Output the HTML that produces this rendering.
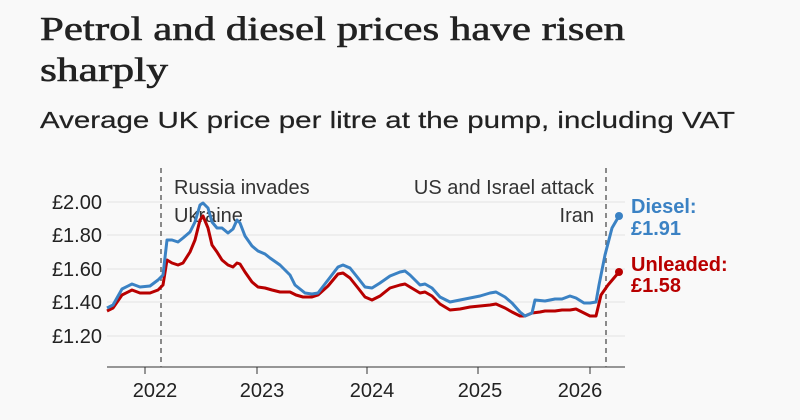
<!DOCTYPE html>
<html><head><meta charset="utf-8"><style>
html,body{margin:0;padding:0;background:#f9f9f9;}
svg{display:block;}
.s{font-family:"Liberation Sans",sans-serif;}
.r{font-family:"Liberation Serif",serif;}
</style></head><body>
<svg width="800" height="420" viewBox="0 0 800 420" xmlns="http://www.w3.org/2000/svg">
<rect width="800" height="420" fill="#f9f9f9"/>
<text class="r" x="40" y="40" font-size="34" fill="#222" stroke="#222" stroke-width="0.6" textLength="585" lengthAdjust="spacingAndGlyphs">Petrol and diesel prices have risen</text>
<text class="r" x="40" y="81" font-size="34" fill="#222" stroke="#222" stroke-width="0.6" textLength="128" lengthAdjust="spacingAndGlyphs">sharply</text>
<text class="s" x="40" y="128" font-size="23" fill="#222" stroke="#222" stroke-width="0.2" textLength="695" lengthAdjust="spacingAndGlyphs">Average UK price per litre at the pump, including VAT</text>
<g stroke="#e2e2e2" stroke-width="1">
<line x1="107" y1="202" x2="625" y2="202"/>
<line x1="107" y1="235" x2="625" y2="235"/>
<line x1="107" y1="269" x2="625" y2="269"/>
<line x1="107" y1="302" x2="625" y2="302"/>
<line x1="107" y1="336" x2="625" y2="336"/>
</g>
<g class="s" font-size="20" fill="#222" text-anchor="end">
<text x="102" y="209">£2.00</text>
<text x="102" y="242">£1.80</text>
<text x="102" y="276">£1.60</text>
<text x="102" y="309">£1.40</text>
<text x="102" y="343">£1.20</text>
</g>
<line x1="107" y1="367" x2="625" y2="367" stroke="#333" stroke-width="1"/>
<g stroke="#333" stroke-width="1">
<line x1="145" y1="367" x2="145" y2="374"/>
<line x1="257" y1="367" x2="257" y2="374"/>
<line x1="367" y1="367" x2="367" y2="374"/>
<line x1="478" y1="367" x2="478" y2="374"/>
<line x1="590" y1="367" x2="590" y2="374"/>
</g>
<g class="s" font-size="20" fill="#222" text-anchor="middle">
<text x="155" y="397">2022</text>
<text x="262" y="397">2023</text>
<text x="372" y="397">2024</text>
<text x="480" y="397">2025</text>
<text x="580" y="397">2026</text>
</g>
<g stroke="#666" stroke-width="1.5" stroke-dasharray="5,4">
<line x1="161" y1="168" x2="161" y2="367"/>
<line x1="606" y1="168" x2="606" y2="367"/>
</g>
<g class="s" font-size="20" fill="#333">
<text x="174" y="194">Russia invades</text>
<text x="174" y="222">Ukraine</text>
<text x="594" y="194" text-anchor="end">US and Israel attack</text>
<text x="594" y="222" text-anchor="end">Iran</text>
</g>
<polyline fill="none" stroke="#b80000" stroke-width="3" stroke-linejoin="round" points="107,311 113,308 122,295 132,290 140,293 150,293 158,290 163,285 167,260 172,263 178,265 183,263 190,252 195,240 200,220 203,216 208,228 212,245 217,252 222,260 228,265 233,267 237,263 240,264 245,272 252,282 258,287 265,288 272,290 280,292 290,292 296,295 303,297 312,297 318,295 328,286 338,274 343,273 350,278 358,288 365,297 372,300 380,296 390,288 400,285 405,284 410,287 420,293 425,292 432,296 440,304 450,310 460,309 470,307 480,306 490,305 496,304 505,308 512,312 520,316 525,316 532,313 540,312 545,311 555,311 562,310 570,310 576,309 584,313 590,316 596,316 601,295 608,285 619,272"/>
<polyline fill="none" stroke="#3b82c4" stroke-width="3" stroke-linejoin="round" points="107,308 113,305 122,289 132,284 140,287 150,286 158,280 163,275 167,240 172,240 178,242 183,238 190,232 195,222 200,205 203,203 208,208 212,222 217,228 222,228 228,233 233,229 237,220 240,223 245,236 252,246 258,251 265,254 270,258 280,265 290,275 295,285 305,293 312,294 318,293 328,280 338,267 343,265 350,268 358,278 365,287 372,288 380,283 390,276 400,272 405,271 410,275 420,285 425,284 432,288 440,297 450,302 460,300 470,298 480,296 490,293 496,292 505,297 512,303 520,312 525,316 532,313 535,300 545,301 555,299 562,299 570,296 576,298 584,303 590,303 596,302 599,285 605,255 612,228 619,216"/>
<circle cx="619" cy="216" r="4" fill="#3b82c4"/>
<circle cx="619" cy="272" r="4" fill="#b80000"/>
<g class="s" font-size="20" font-weight="bold">
<text x="631" y="213" fill="#3b82c4">Diesel:</text>
<text x="631" y="235" fill="#3b82c4">£1.91</text>
<text x="631" y="271" fill="#b80000">Unleaded:</text>
<text x="631" y="292" fill="#b80000">£1.58</text>
</g>
</svg>
</body></html>
